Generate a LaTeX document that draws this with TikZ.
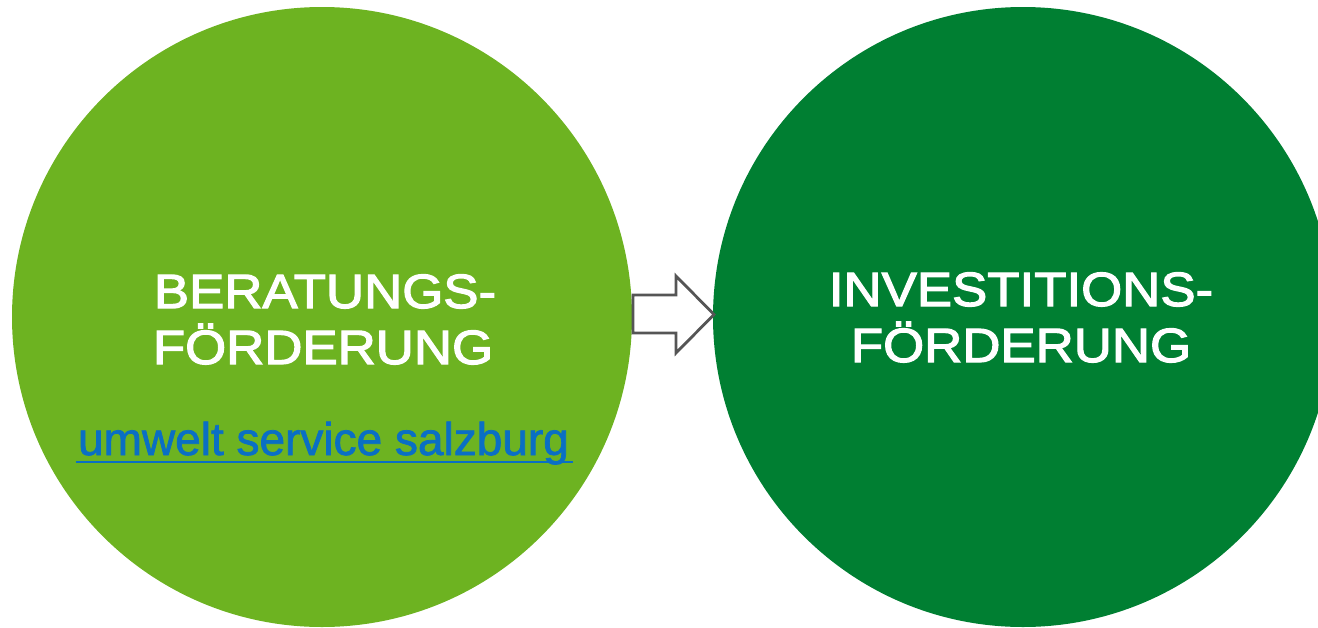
\documentclass[tikz,border=0pt]{standalone}
\usepackage{fontspec}
\setmainfont{Liberation Sans}
\newfontfamily\widefont[FakeStretch=1.1,FakeBold=2.6]{Liberation Sans}
\newfontfamily\linkfont[FakeBold=1.6]{Liberation Sans}
\definecolor{lightgreen}{HTML}{6DB321}
\definecolor{darkgreen}{HTML}{007F32}
\definecolor{linkblue}{HTML}{0A6FC4}
\definecolor{arrowgray}{HTML}{555555}
\tikzset{
  bigcircle/.style={circle, minimum size=620pt, inner sep=0pt, draw=none},
  title/.style={text=white, inner sep=0pt, anchor=base, font=\widefont\fontsize{48}{56}\selectfont},
  linktext/.style={text=linkblue, inner sep=0pt, anchor=base, font=\linkfont\fontsize{46}{56}\selectfont},
}
\begin{document}
\begin{tikzpicture}[x=1pt, y=-1pt]
\useasboundingbox (0,0) rectangle (1318,627);
\clip (0,0) rectangle (1318,627);
\node[bigcircle, fill=lightgreen] (left) at (322,317) {};
\node[bigcircle, fill=darkgreen] (right) at (1023,317) {};
\draw[arrowgray, line width=2.8pt, fill=white, line join=miter]
  (633,295) -- (676,295) -- (676,276) -- (714,314.5) -- (676,353) -- (676,333) -- (633,333) -- cycle;
\node[title] (l1) at (325,308) {BERATUNGS-};
\node[title] (l2) at (323,364) {FÖRDERUNG};
\node[title] (r1) at (1021,306) {INVESTITIONS-};
\node[title] (r2) at (1021,362) {FÖRDERUNG};
\node[linktext] (link) at (323.5,455) {umwelt service salzburg};
\draw[linkblue, line width=2.8pt] ([xshift=-2pt,yshift=-7pt]link.base west) -- ([xshift=4pt,yshift=-7pt]link.base east);
\end{tikzpicture}
\end{document}
